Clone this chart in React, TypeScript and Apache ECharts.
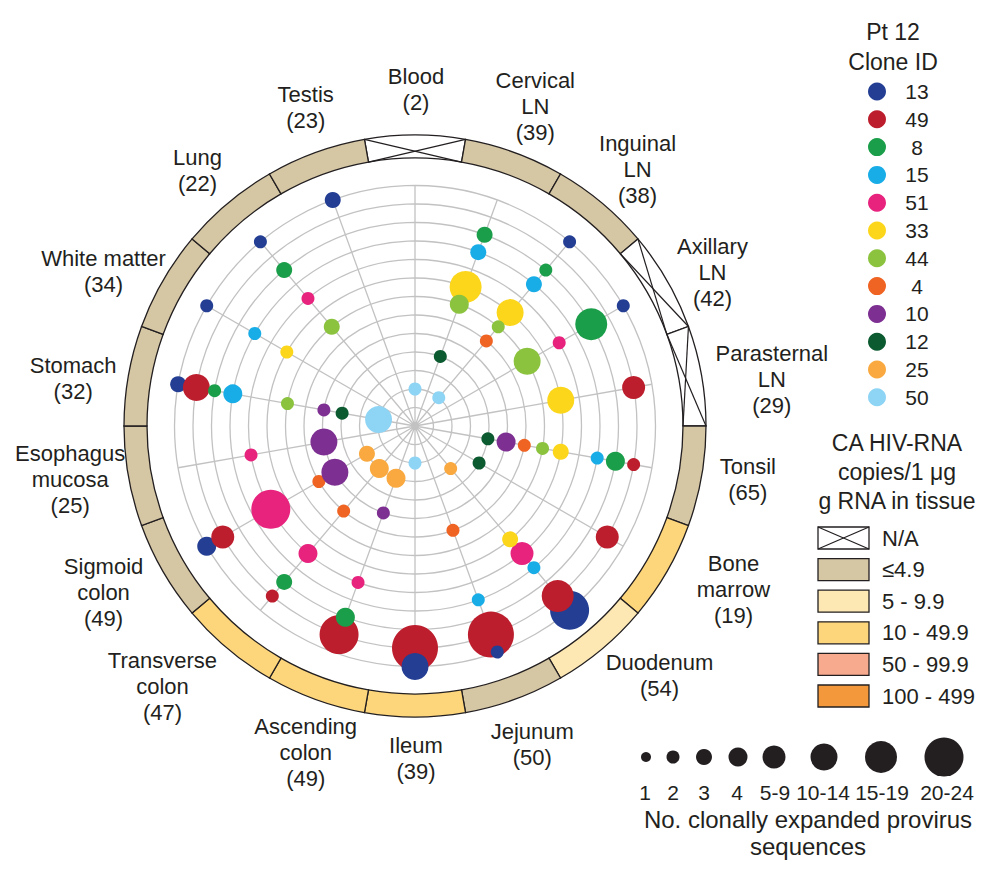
import React, { useEffect, useRef } from 'react';
import * as echarts from 'echarts';

// ---------- DATA ----------
const tissues = ['Blood', 'Cervical LN', 'Inguinal LN', 'Axillary LN', 'Parasternal LN', 'Tonsil', 'Bone marrow', 'Duodenum', 'Jejunum', 'Ileum', 'Ascending colon', 'Transverse colon', 'Sigmoid colon', 'Esophagus mucosa', 'Stomach', 'White matter', 'Lung', 'Testis'];
const tissueLabels = ['Blood', 'Cervical\nLN', 'Inguinal\nLN', 'Axillary\nLN', 'Parasternal\nLN', 'Tonsil', 'Bone\nmarrow', 'Duodenum', 'Jejunum', 'Ileum', 'Ascending\ncolon', 'Transverse\ncolon', 'Sigmoid\ncolon', 'Esophagus\nmucosa', 'Stomach', 'White matter', 'Lung', 'Testis'];
const tissueTotals = [2, 39, 38, 42, 29, 65, 19, 54, 50, 39, 49, 47, 49, 25, 32, 34, 22, 23];

const rnaLevels = ['N/A', '≤4.9', '5 - 9.9', '10 - 49.9', '50 - 99.9', '100 - 499'];
// index into rnaLevels for each tissue
const tissueRna = [0, 1, 1, 0, 0, 1, 3, 2, 1, 3, 3, 3, 1, 1, 1, 1, 1, 1];

const cloneIds = ['13', '49', '8', '15', '51', '33', '44', '4', '10', '12', '25', '50'];

const clone13: [string, number][] = [['Inguinal LN', 2], ['Axillary LN', 2], ['Duodenum', 22], ['Jejunum', 2], ['Ileum', 12], ['Sigmoid colon', 4], ['Stomach', 3], ['White matter', 2], ['Lung', 2], ['Testis', 3]];
const clone49: [string, number][] = [['Parasternal LN', 7], ['Tonsil', 2], ['Bone marrow', 7], ['Duodenum', 17], ['Jejunum', 30], ['Ileum', 30], ['Ascending colon', 22], ['Transverse colon', 2], ['Sigmoid colon', 7], ['Stomach', 12]];
const clone8: [string, number][] = [['Cervical LN', 3], ['Inguinal LN', 2], ['Axillary LN', 17], ['Tonsil', 4], ['Ascending colon', 4], ['Transverse colon', 3], ['Stomach', 2], ['Lung', 3]];
const clone15: [string, number][] = [['Cervical LN', 3], ['Inguinal LN', 3], ['Tonsil', 2], ['Duodenum', 2], ['Jejunum', 2], ['Stomach', 4], ['White matter', 2]];
const clone51: [string, number][] = [['Axillary LN', 2], ['Duodenum', 7], ['Ascending colon', 2], ['Transverse colon', 4], ['Sigmoid colon', 22], ['Esophagus mucosa', 2], ['Lung', 2]];
const clone33: [string, number][] = [['Cervical LN', 17], ['Inguinal LN', 12], ['Parasternal LN', 12], ['Tonsil', 3], ['Duodenum', 3], ['White matter', 2]];
const clone44: [string, number][] = [['Cervical LN', 4], ['Inguinal LN', 2], ['Axillary LN', 12], ['Tonsil', 2], ['Stomach', 2], ['Lung', 3]];
const clone4: [string, number][] = [['Inguinal LN', 2], ['Tonsil', 2], ['Jejunum', 2], ['Transverse colon', 2], ['Sigmoid colon', 2]];
const clone10: [string, number][] = [['Tonsil', 4], ['Ascending colon', 2], ['Sigmoid colon', 12], ['Esophagus mucosa', 12], ['Stomach', 2]];
const clone12: [string, number][] = [['Cervical LN', 2], ['Tonsil', 2], ['Bone marrow', 2], ['Stomach', 2]];
const clone25: [string, number][] = [['Duodenum', 2], ['Ascending colon', 4], ['Transverse colon', 4], ['Sigmoid colon', 3]];
const clone50: [string, number][] = [['Blood', 2], ['Inguinal LN', 2], ['Ileum', 2], ['Stomach', 12]];

const cloneData = [clone13, clone49, clone8, clone15, clone51, clone33, clone44, clone4, clone10, clone12, clone25, clone50];

const sizeBinLabels = ['1', '2', '3', '4', '5-9', '10-14', '15-19', '20-24'];
const sizeBinMin = [1, 2, 3, 4, 5, 10, 15, 20];

// ---------- STYLE / LAYOUT ----------
const cloneColors = ['#233e93', '#bd1e2d', '#1b9e4a', '#19ade8', '#e7237e', '#fcd61a', '#8bc33f', '#ef6323', '#7d2f92', '#0c5a30', '#f9a93f', '#8ed4f5'];
const rnaColors = ['#ffffff', '#d5c6a4', '#fde8b4', '#fdd67b', '#f8aa8e', '#f4993b'];
const sizeBinDiam = [10, 13, 16, 19, 23, 27, 32, 39];
const OVER_DIAM = 46;
const FRONT_13 = ['Jejunum', 'Ileum'];

const FONT = "'Liberation Sans', Arial, Helvetica, sans-serif";
const INK = '#231f20';
const GRID = '#c2c2c2';
const CX = 415;
const CY = 426;
const R_GRID = 240.5;
const BAND = [268, 291];
const LABEL_R = 340;
const LABEL_NUDGE: [number, number][] = [[1, 3], [4, 0], [4, 4], [3, 16], [22, 13], [-2, -6], [24, -7], [26, -11], [1, -1], [1, -8], [7, 7], [-34, 0], [-17, -4], [-10, -6], [-7, 12], [-17, 15], [1, 5], [7, 1]];

function sizeFor(n: number): number {
  let d = sizeBinDiam[0];
  for (let i = 0; i < sizeBinMin.length; i++) if (n >= sizeBinMin[i]) d = sizeBinDiam[i];
  if (n >= 25) d = OVER_DIAM;
  return d;
}

function buildOption() {
  const nClones = cloneIds.length;
  const nT = tissues.length;
  const series: any[] = [];

  // band ring (HIV RNA level per tissue)
  series.push({
    type: 'custom',
    coordinateSystem: 'polar',
    polarIndex: 1,
    silent: true,
    z: 1,
    data: tissues.map((t, i) => [1, i, tissueRna[i]]),
    renderItem: (params: any, api: any) => {
      const cs = params.coordSys;
      const idx = api.value(1);
      const lvl = api.value(2);
      const p = api.coord([1, idx]);
      const a = Math.atan2(p[1] - cs.cy, p[0] - cs.cx);
      let half = Math.PI / nT;
      try {
        const s = api.size([1, 1], [1, idx]);
        if (s && isFinite(s[1]) && s[1] > 0) half = s[1] / 2;
      } catch (e) { /* keep default */ }
      const r0 = cs.r0;
      const r = cs.r;
      const children: any[] = [
        {
          type: 'sector',
          shape: { cx: cs.cx, cy: cs.cy, r0, r, startAngle: a - half, endAngle: a + half, clockwise: true },
          style: { fill: rnaColors[lvl], stroke: INK, lineWidth: 1.3 },
        },
      ];
      if (lvl === 0) {
        const pt = (rad: number, ang: number) => [cs.cx + rad * Math.cos(ang), cs.cy + rad * Math.sin(ang)];
        const a1 = pt(r0, a - half), b1 = pt(r, a + half);
        const a2 = pt(r, a - half), b2 = pt(r0, a + half);
        children.push({ type: 'line', shape: { x1: a1[0], y1: a1[1], x2: b1[0], y2: b1[1] }, style: { stroke: INK, lineWidth: 1.2 } });
        children.push({ type: 'line', shape: { x1: a2[0], y1: a2[1], x2: b2[0], y2: b2[1] }, style: { stroke: INK, lineWidth: 1.2 } });
      }
      return { type: 'group', children };
    },
  });

  cloneData.forEach((pts, ci) => {
    const ring = nClones + 1 - ci;
    const mk = (arr: [string, number][]) => arr.map(([t, n]) => [ring, tissues.indexOf(t), n]);
    const base = ci === 0 ? pts.filter(([t]) => FRONT_13.indexOf(t) < 0) : pts;
    series.push({
      type: 'scatter',
      name: cloneIds[ci],
      coordinateSystem: 'polar',
      polarIndex: 0,
      data: mk(base),
      symbol: 'circle',
      symbolSize: (v: number[]) => sizeFor(v[2]),
      itemStyle: { color: cloneColors[ci], opacity: 1 },
      emphasis: { disabled: true },
      z: 3,
    });
    if (ci === 0) {
      series.push({
        type: 'scatter',
        name: cloneIds[ci],
        coordinateSystem: 'polar',
        polarIndex: 0,
        data: mk(pts.filter(([t]) => FRONT_13.indexOf(t) >= 0)),
        symbol: 'circle',
        symbolSize: (v: number[]) => sizeFor(v[2]),
        itemStyle: { color: cloneColors[ci], opacity: 1 },
        emphasis: { disabled: true },
        z: 4,
      });
    }
  });

  const graphic: any[] = [];
  // tissue labels
  tissues.forEach((t, i) => {
    const ang = ((90 - (360 / nT) * i) * Math.PI) / 180;
    const x = CX + LABEL_R * Math.cos(ang) + LABEL_NUDGE[i][0];
    const y = CY - LABEL_R * Math.sin(ang) + LABEL_NUDGE[i][1];
    graphic.push({
      type: 'text',
      x, y,
      style: {
        text: tissueLabels[i] + '\n(' + tissueTotals[i] + ')',
        font: `22px ${FONT}`,
        fill: INK,
        align: 'center',
        verticalAlign: 'middle',
        lineHeight: 26,
      },
    });
  });

  // clone legend title
  graphic.push({
    type: 'text', x: 893, y: 47,
    style: { text: 'Pt 12\nClone ID', font: `23px ${FONT}`, fill: INK, align: 'center', verticalAlign: 'middle', lineHeight: 30 },
  });

  // RNA legend
  graphic.push({
    type: 'text', x: 897, y: 472,
    style: { text: 'CA HIV-RNA\ncopies/1 μg\ng RNA in tissue', font: `23px ${FONT}`, fill: INK, align: 'center', verticalAlign: 'middle', lineHeight: 29 },
  });
  rnaLevels.forEach((lab, i) => {
    const top = 527 + i * 31.6;
    graphic.push({ type: 'rect', shape: { x: 818, y: top, width: 51, height: 22 }, style: { fill: rnaColors[i], stroke: INK, lineWidth: 1.3 } });
    if (i === 0) {
      graphic.push({ type: 'line', shape: { x1: 818, y1: top, x2: 869, y2: top + 22 }, style: { stroke: INK, lineWidth: 1.2 } });
      graphic.push({ type: 'line', shape: { x1: 818, y1: top + 22, x2: 869, y2: top }, style: { stroke: INK, lineWidth: 1.2 } });
    }
    graphic.push({ type: 'text', x: 882, y: top + 11, style: { text: lab, font: `22px ${FONT}`, fill: INK, align: 'left', verticalAlign: 'middle' } });
  });

  // size legend
  const sizeX = [646, 673, 704, 738, 774, 824, 881, 944];
  const labX = [645, 673, 704, 737, 775, 823, 882, 947];
  sizeBinLabels.forEach((lab, i) => {
    graphic.push({ type: 'circle', shape: { cx: sizeX[i], cy: 757, r: sizeFor(sizeBinMin[i]) / 2 }, style: { fill: INK } });
    graphic.push({ type: 'text', x: labX[i], y: 792, style: { text: lab, font: `21px ${FONT}`, fill: INK, align: 'center', verticalAlign: 'middle' } });
  });
  graphic.push({
    type: 'text', x: 808, y: 833,
    style: { text: 'No. clonally expanded provirus\nsequences', font: `24px ${FONT}`, fill: INK, align: 'center', verticalAlign: 'middle', lineHeight: 27 },
  });

  return {
    animation: false,
    backgroundColor: '#ffffff',
    polar: [
      { center: [CX, CY], radius: [0, R_GRID] },
      { center: [CX, CY], radius: BAND },
    ],
    angleAxis: [
      {
        polarIndex: 0, type: 'value', min: 0, max: nT, interval: 1, startAngle: 90, clockwise: true,
        axisLine: { show: false }, axisTick: { show: false }, axisLabel: { show: false },
        splitLine: { show: true, lineStyle: { color: GRID, width: 1.3 } },
      },
      {
        polarIndex: 1, type: 'category', data: tissues, boundaryGap: true, startAngle: 90 + 180 / nT, clockwise: true,
        axisLine: { show: false }, axisTick: { show: false }, axisLabel: { show: false }, splitLine: { show: false },
      },
    ],
    radiusAxis: [
      {
        polarIndex: 0, type: 'value', min: 0, max: 13, interval: 1,
        axisLine: { show: false }, axisTick: { show: false }, axisLabel: { show: false },
        splitLine: { show: true, lineStyle: { color: GRID, width: 1.3 } },
      },
      {
        polarIndex: 1, type: 'value', min: 0, max: 1,
        axisLine: { show: false }, axisTick: { show: false }, axisLabel: { show: false }, splitLine: { show: false },
      },
    ],
    legend: {
      orient: 'vertical', left: 863, top: 76, itemWidth: 18, itemHeight: 18, itemGap: 6.8, icon: 'circle',
      selectedMode: false, data: cloneIds,
      formatter: (name: string) => `{a|${name}}`,
      textStyle: { rich: { a: { width: 52, align: 'center', fontSize: 21, fontFamily: FONT, color: INK } } },
    },
    graphic,
    series,
  };
}

export default function App() {
  const ref = useRef<HTMLDivElement>(null);
  useEffect(() => {
    if (!ref.current) return;
    const chart = echarts.init(ref.current, undefined, { renderer: 'svg' });
    chart.setOption(buildOption() as any);
    return () => chart.dispose();
  }, []);
  return <div ref={ref} style={{ position: 'absolute', left: 0, top: 0, width: 1000, height: 869, background: '#fff' }} />;
}
